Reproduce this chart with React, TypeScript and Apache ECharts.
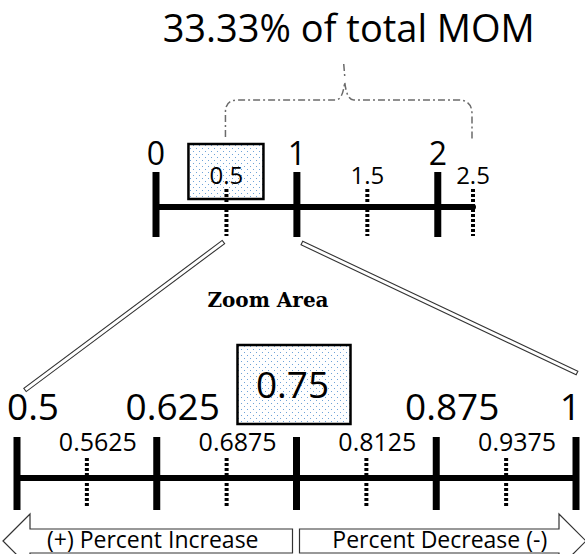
import React, { useEffect, useRef } from "react";
import * as echarts from "echarts";

// ---- content ----
const titleText = "33.33% of total MOM";
const zoomAreaLabel = "Zoom Area";
const arrowLabels = ["(+) Percent Increase", "Percent Decrease (-)"];

// top (overview) number line; the drawn line is cut short, the 2.5 tick sits at its end
const topRange = [0, 2.25];
const topMajorTicks = [0, 1, 2];
const topMinorTicks = [0.5, 1.5, 2.5];
const topHighlight = 0.5;
const topZoom = [0.5, 1];

// bottom (zoomed) number line
const bottomRange = [0.5, 1];
const bottomMajorTicks = [0.5, 0.625, 0.75, 0.875, 1];
const bottomMinorTicks = [0.5625, 0.6875, 0.8125, 0.9375];
const bottomHighlight = 0.75;

const FONT = "'Open Sans', 'Noto Sans', sans-serif";

function makeDots(): HTMLCanvasElement {
  const c = document.createElement("canvas");
  c.width = 6;
  c.height = 6;
  const g = c.getContext("2d")!;
  g.fillStyle = "#ffffff";
  g.fillRect(0, 0, 6, 6);
  g.fillStyle = "#6fa3d8";
  g.fillRect(1, 1, 1, 1);
  g.fillRect(4, 4, 1, 1);
  return c;
}

function txt(text: string, x: number, y: number, font: string, align = "center") {
  return {
    type: "text",
    style: {
      text,
      x,
      y,
      font,
      fill: "#000",
      align,
      verticalAlign: "middle",
      textAlign: align,
      textVerticalAlign: "middle",
    },
  };
}

export default function App() {
  const ref = useRef<HTMLDivElement>(null);
  useEffect(() => {
    const el = ref.current!;
    const chart = echarts.init(el, null, { renderer: "svg" });
    const dotCanvas = makeDots();
    const boxFill: any = {
      image: dotCanvas.toDataURL(),
      repeat: "repeat",
      imageWidth: 6,
      imageHeight: 6,
    };

    const axisCommon = {
      type: "value",
      axisLine: { show: true, onZero: true, lineStyle: { color: "#000", width: 6 } },
      axisTick: { show: false },
      axisLabel: { show: false },
      splitLine: { show: false },
    };

    const option: any = {
      animation: false,
      backgroundColor: "#fff",
      grid: [
        { left: 156, top: 157, width: 317, height: 100 },
        { left: 17, top: 428, width: 559, height: 100 },
      ],
      xAxis: [
        { ...axisCommon, gridIndex: 0, min: topRange[0], max: topRange[1] },
        { ...axisCommon, gridIndex: 1, min: bottomRange[0], max: bottomRange[1] },
      ],
      yAxis: [
        { gridIndex: 0, type: "value", min: -50, max: 50, show: false },
        { gridIndex: 1, type: "value", min: -50, max: 50, show: false },
      ],
      series: [
        {
          type: "custom",
          xAxisIndex: 0,
          yAxisIndex: 0,
          data: topMajorTicks.map((v) => [v, 0]),
          renderItem: (_p: any, api: any) => {
            const v = api.value(0) as number;
            const [x, y] = api.coord([v, 0]);
            return {
              type: "group",
              children: [
                { type: "rect", shape: { x: x - 3.5, y: y - 35, width: 7, height: 65 }, style: { fill: "#000" } },
                txt(String(v), x, y - 55, `32px ${FONT}`),
              ],
            };
          },
        },
        {
          type: "custom",
          xAxisIndex: 0,
          yAxisIndex: 0,
          data: topMinorTicks.map((v) => [v, 0]),
          renderItem: (_p: any, api: any) => {
            const v = api.value(0) as number;
            const [x, y] = api.coord([Math.min(v, topRange[1]), 0]);
            const children: any[] = [];
            if (v === topHighlight) {
              children.push({
                type: "rect",
                shape: { x: x - 38, y: y - 63, width: 75, height: 55 },
                style: { fill: boxFill, stroke: "#000", lineWidth: 2.5 },
              });
            }
            children.push({
              type: "line",
              shape: { x1: x, y1: y - 18, x2: x, y2: y + 29 },
              style: { stroke: "#000", lineWidth: 4, lineDash: [3, 2] },
            });
            children.push(txt(String(v), x, y - 33, `24px ${FONT}`));
            return { type: "group", children };
          },
        },
        {
          type: "custom",
          xAxisIndex: 1,
          yAxisIndex: 1,
          data: bottomMajorTicks.map((v) => [v, 0]),
          renderItem: (_p: any, api: any) => {
            const v = api.value(0) as number;
            const [x, y] = api.coord([v, 0]);
            const children: any[] = [];
            if (v === bottomHighlight) {
              children.push({
                type: "rect",
                shape: { x: x - 59, y: y - 133, width: 113, height: 79 },
                style: { fill: boxFill, stroke: "#000", lineWidth: 2.5 },
              });
              children.push(txt(String(v), x - 4, y - 95, `37px ${FONT}`));
            } else if (v === bottomRange[1]) {
              children.push(txt(String(v), x + 5, y - 73, `37px ${FONT}`, "right"));
            } else {
              children.push(txt(String(v), x + 16, y - 73, `37px ${FONT}`));
            }
            children.push({ type: "rect", shape: { x: x - 3.5, y: y - 41, width: 7, height: 73 }, style: { fill: "#000" } });
            return { type: "group", children };
          },
        },
        {
          type: "custom",
          xAxisIndex: 1,
          yAxisIndex: 1,
          data: bottomMinorTicks.map((v) => [v, 0]),
          renderItem: (_p: any, api: any) => {
            const v = api.value(0) as number;
            const [x, y] = api.coord([v, 0]);
            return {
              type: "group",
              children: [
                {
                  type: "line",
                  shape: { x1: x, y1: y - 20, x2: x, y2: y + 30 },
                  style: { stroke: "#000", lineWidth: 4, lineDash: [3, 2] },
                },
                txt(String(v), x + 11, y - 37, `25px ${FONT}`),
              ],
            };
          },
        },
      ],
    };
    chart.setOption(option);

    const px = (g: number, v: number) => chart.convertToPixel({ gridIndex: g }, [v, 0]) as number[];
    const tA = px(0, topZoom[0]);
    const tB = px(0, topZoom[1]);
    const tEnd = px(0, topRange[1]);
    const bA = px(1, bottomRange[0]);
    const bB = px(1, bottomRange[1]);
    const bMid = px(1, bottomHighlight);

    const band = (p: number[], q: number[], w: number) => {
      const dx = q[0] - p[0];
      const dy = q[1] - p[1];
      const L = Math.hypot(dx, dy);
      const nx = (-dy / L) * (w / 2);
      const ny = (dx / L) * (w / 2);
      return {
        type: "polygon",
        shape: {
          points: [
            [p[0] + nx, p[1] + ny],
            [q[0] + nx, q[1] + ny],
            [q[0] - nx, q[1] - ny],
            [p[0] - nx, p[1] - ny],
          ],
        },
        style: { fill: "#fff", stroke: "#333", lineWidth: 1.1 },
      };
    };

    // bracket
    const xL = tA[0] - 1;
    const xR = tEnd[0] - 1;
    const xm = (xL + xR) / 2 - 4;
    const yT = 100;
    const yP = 82;
    const d =
      `M${xL},137 L${xL},${yT + 12} Q${xL},${yT} ${xL + 12},${yT} L${xm - 9},${yT} ` +
      `Q${xm - 2},${yT} ${xm},${yP} Q${xm + 2},${yT} ${xm + 9},${yT} L${xR - 14},${yT} ` +
      `Q${xR},${yT} ${xR},${yT + 14} L${xR},140 M${xm - 1},64 L${xm},76`;
    echarts.graphic.registerShape("bracketShape", echarts.graphic.extendPath(d, {}) as any);

    const arrow = (xs: number, xe: number, yc: number, dir: "left" | "right") => {
      const head = 27;
      const hh = 27;
      const sh = 12;
      const pts =
        dir === "left"
          ? [
              [xs, yc],
              [xs + head, yc - hh],
              [xs + head, yc - sh],
              [xe, yc - sh],
              [xe, yc + sh],
              [xs + head, yc + sh],
              [xs + head, yc + hh],
            ]
          : [
              [xs, yc - sh],
              [xe - head, yc - sh],
              [xe - head, yc - hh],
              [xe, yc],
              [xe - head, yc + hh],
              [xe - head, yc + sh],
              [xs, yc + sh],
            ];
      return { type: "polygon", shape: { points: pts }, style: { fill: "#fff", stroke: "#333", lineWidth: 1.2 } };
    };

    const yc = 541;
    const lxs = bA[0] - 14;
    const lxe = bMid[0] - 4;
    const rxs = bMid[0] + 3;
    const rxe = bB[0] + 10;

    chart.setOption({
      graphic: [
        txt(titleText, (xL + xR) / 2, 27, `38px ${FONT}`),
        {
          type: "bracketShape",
          x: 0,
          y: 0,
          style: { fill: "none", stroke: "#6b6b6b", lineWidth: 1.5, lineDash: [7, 3, 2, 3] },
        },
        band([tA[0] - 3, tA[1] + 35], [bA[0] + 8, bA[1] - 88], 4),
        band([tB[0] + 5, tB[1] + 36], [bB[0] + 1, bB[1] - 105], 4),
        txt(zoomAreaLabel, 268, 300, `bold 20px 'DejaVu Serif', serif`),
        arrow(lxs, lxe, yc, "left"),
        arrow(rxs, rxe, yc, "right"),
        txt(arrowLabels[0], (lxs + lxe) / 2 + 5, yc - 2, `23px ${FONT}`),
        txt(arrowLabels[1], (rxs + rxe) / 2 - 3, yc - 2, `23px ${FONT}`),
      ],
    });

    return () => chart.dispose();
  }, []);
  return <div ref={ref} style={{ position: "fixed", left: 0, top: 0, width: 585, height: 554 }} />;
}
